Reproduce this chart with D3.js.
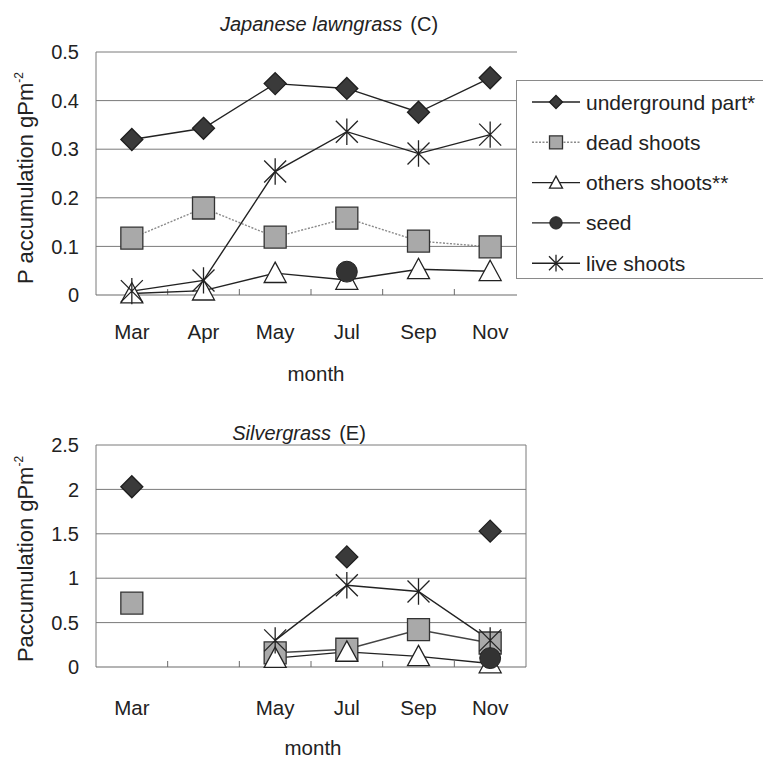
<!DOCTYPE html>
<html><head><meta charset="utf-8">
<script src="https://cdn.jsdelivr.net/npm/d3@7"></script>
<style>
html,body{margin:0;padding:0;background:#fff;}
svg{display:block;font-family:"Liberation Sans",Arial,sans-serif;}
</style></head>
<body>
<svg id="c" width="763" height="758"></svg>
<script>
// ---------- data ----------
const months = ["Mar","Apr","May","Jul","Sep","Nov"];
const topTickLabels = ["Mar","Apr","May","Jul","Sep","Nov"];
const bottomTickLabels = ["Mar","","May","Jul","Sep","Nov"];
const topYTicks = [0,0.1,0.2,0.3,0.4,0.5];
const bottomYTicks = [0,0.5,1,1.5,2,2.5];
const seriesNames = ["underground part*","dead shoots","others shoots**","seed","live shoots"];

// Japanese lawngrass (C)
const jUnderground = [0.32,0.343,0.435,0.425,0.376,0.447];
const jDead        = [0.117,0.179,0.119,0.158,0.111,0.099];
const jOthers      = [0.003,0.009,0.045,0.031,0.053,0.049];
const jSeed        = [null,null,null,0.048,null,null];
const jLive        = [0.008,0.03,0.254,0.336,0.291,0.33];

// Silvergrass (E)
const sUnderground = [2.03,null,null,1.24,null,1.53];
const sDead        = [0.72,null,0.16,0.2,0.42,0.27];
const sOthers      = [null,null,0.1,0.17,0.12,0.04];
const sSeed        = [null,null,null,null,null,0.1];
const sLive        = [null,null,0.3,0.92,0.85,0.3];

// ---------- drawing ----------
const svg = d3.select("#c");
const textColor = "#222";

function markerPath(type, s){
  if(type==="diamond") return `M0,${-s}L${s},0L0,${s}L${-s},0Z`;
  if(type==="square") return `M${-s},${-s}H${s}V${s}H${-s}Z`;
  if(type==="triangle") return `M0,${-s}L${s},${s*0.85}L${-s},${s*0.85}Z`;
  if(type==="asterisk") return `M${-s},${-s}L${s},${s}M${s},${-s}L${-s},${s}M0,${-s*1.2}V${s*1.2}`;
  return "";
}
const styles = [
  {type:"diamond", fill:"#3a3a3a", stroke:"#1e1e1e", line:"#222", dash:null, lw:1.4},
  {type:"square", fill:"#a9a9a9", stroke:"#333", line:"#8a8a8a", dash:"2,1.5", lw:1.4},
  {type:"triangle", fill:"#fff", stroke:"#222", line:"#222", dash:null, lw:1.4},
  {type:"circle", fill:"#333", stroke:"#222", line:"#222", dash:null, lw:1.4},
  {type:"asterisk", fill:"none", stroke:"#222", line:"#222", dash:null, lw:1.4}
];

function drawMarker(g, type, x, y, s, st){
  if(type==="circle"){
    g.append("circle").attr("cx",x).attr("cy",y).attr("r",s*0.95)
      .attr("fill",st.fill).attr("stroke",st.stroke).attr("stroke-width",1);
  } else {
    g.append("path").attr("d",markerPath(type,s)).attr("transform",`translate(${x},${y})`)
      .attr("fill",st.fill).attr("stroke",st.stroke).attr("stroke-width",1.3);
  }
}

function drawChart(cfg){
  const g = svg.append("g");
  const x = d3.scalePoint().domain(months).range([cfg.left,cfg.right]).padding(0.5);
  const y = d3.scaleLinear().domain(cfg.domain).range([cfg.bottom,cfg.top]);
  const step = x.step();

  // gridlines
  g.selectAll(".grid").data(cfg.yTicks.filter(t=>t>0)).join("line")
    .attr("x1",cfg.left).attr("x2",cfg.gridRight)
    .attr("y1",d=>y(d)).attr("y2",d=>y(d))
    .attr("stroke","#7a7a7a").attr("stroke-width",1);
  // frame
  g.append("line").attr("x1",cfg.left).attr("x2",cfg.left).attr("y1",cfg.top).attr("y2",cfg.bottom)
    .attr("stroke","#7a7a7a");
  if(cfg.drawRight) g.append("line").attr("x1",cfg.right).attr("x2",cfg.right).attr("y1",cfg.top).attr("y2",cfg.bottom)
    .attr("stroke","#7a7a7a");
  g.append("line").attr("x1",cfg.left).attr("x2",cfg.gridRight).attr("y1",cfg.bottom).attr("y2",cfg.bottom)
    .attr("stroke","#6a6a6a").attr("stroke-width",1.2);
  // inner x ticks at category boundaries
  g.selectAll(".xt").data(months.slice(1)).join("line")
    .attr("x1",d=>x(d)-step/2).attr("x2",d=>x(d)-step/2)
    .attr("y1",cfg.bottom).attr("y2",cfg.bottom-6)
    .attr("stroke","#6a6a6a");

  // y tick labels
  g.selectAll(".yl").data(cfg.yTicks).join("text")
    .attr("x",79).attr("y",d=>y(d)).attr("dy","0.36em")
    .attr("text-anchor","end").attr("font-size",20).attr("fill",textColor)
    .text(d=>d3.format("~g")(d));
  // x labels
  g.selectAll(".xl").data(months).join("text")
    .attr("x",d=>x(d)).attr("y",cfg.xLabelY)
    .attr("text-anchor","middle").attr("font-size",20.5).attr("fill",textColor)
    .text((d,i)=>cfg.xLabels[i]);
  // month
  g.append("text").attr("x",cfg.monthX).attr("y",cfg.monthY).attr("text-anchor","middle")
    .attr("font-size",20.5).attr("fill",textColor).text("month");
  // title
  const t = g.append("text").attr("x",cfg.titleX).attr("y",cfg.titleY).attr("text-anchor","middle")
    .attr("font-size",20).attr("fill",textColor);
  t.append("tspan").attr("font-style","italic").text(cfg.title);
  t.append("tspan").attr("dx",8).text(cfg.titleSuffix);
  // y label
  const yl = g.append("text").attr("transform",`translate(33,${cfg.yLabelY}) rotate(-90)`)
    .attr("text-anchor","middle").attr("font-size",22).attr("fill",textColor);
  yl.append("tspan").text(cfg.yLabel);
  yl.append("tspan").attr("dx",6).text("gPm");
  yl.append("tspan").attr("font-size",12).attr("dy",-10).text("-2");

  // lines
  cfg.series.forEach((vals,i)=>{
    const st = styles[i];
    const line = d3.line().defined(d=>d.v!=null).x(d=>x(d.m)).y(d=>y(d.v));
    const data = months.map((m,j)=>({m, v: vals[j]}));
    g.append("path").attr("d",line(data)).attr("fill","none")
      .attr("stroke", cfg.lineOverride && cfg.lineOverride[i] ? cfg.lineOverride[i] : st.line)
      .attr("stroke-width",st.lw)
      .attr("stroke-dasharray", cfg.dashOff ? null : st.dash);
  });
  // markers (draw order)
  const order = [0,1,2,4,3];
  order.forEach(i=>{
    const st = styles[i];
    cfg.series[i].forEach((v,j)=>{
      if(v==null) return;
      drawMarker(g, st.type, x(months[j]), y(v), 11, st);
    });
  });
}

drawChart({
  left:96, right:526, gridRight:517, top:52, bottom:295, domain:[0,0.5], yTicks:topYTicks,
  xLabels: topTickLabels, xLabelY:339, monthX:316, monthY:381,
  title:"Japanese lawngrass", titleSuffix:"(C)", titleX:329, titleY:31,
  yLabel:"P accumulation", yLabelY:178, drawRight:false,
  series:[jUnderground,jDead,jOthers,jSeed,jLive]
});

drawChart({
  left:96, right:526, gridRight:526, top:445, bottom:667, domain:[0,2.5], yTicks:bottomYTicks,
  xLabels: bottomTickLabels, xLabelY:715, monthX:313, monthY:755,
  title:"Silvergrass", titleSuffix:"(E)", titleX:299, titleY:440,
  yLabel:"Paccumulation", yLabelY:559, drawRight:true, dashOff:true,
  lineOverride:[null,"#444",null,null,null],
  series:[sUnderground,sDead,sOthers,sSeed,sLive]
});

// legend
const lg = svg.append("g");
lg.append("rect").attr("x",516.5).attr("y",80.5).attr("width",260).attr("height",198)
  .attr("fill","#fff").attr("stroke","#8a8a8a");
seriesNames.forEach((name,i)=>{
  const st = styles[i];
  const cy = 102 + i*40.3;
  lg.append("line").attr("x1",532).attr("x2",580).attr("y1",cy).attr("y2",cy)
    .attr("stroke",st.line).attr("stroke-width",1.4).attr("stroke-dasharray",st.dash);
  drawMarker(lg, st.type, 556, cy, st.type==="asterisk"?7:6.5, st);
  lg.append("text").attr("x",586).attr("y",cy).attr("dy","0.36em")
    .attr("font-size",21).attr("fill",textColor).text(name);
});
</script>
</body></html>
